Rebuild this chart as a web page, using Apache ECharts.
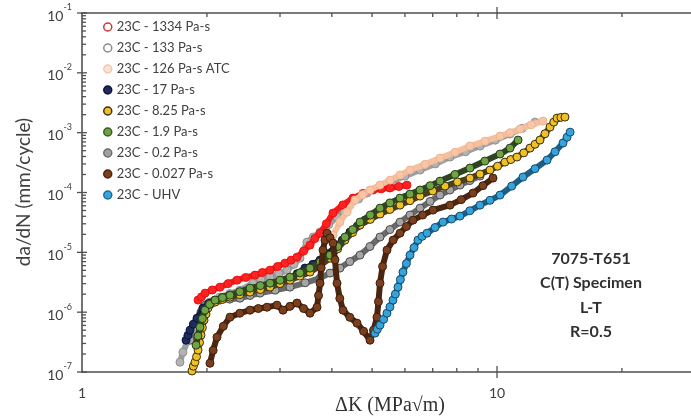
<!DOCTYPE html>
<html><head><meta charset="utf-8">
<script src="https://cdn.jsdelivr.net/npm/echarts@6/dist/echarts.min.js"></script>
<style>html,body{margin:0;padding:0;background:#fff}#c{width:691px;height:419px}</style>
</head><body><div id="c"></div>
<script>
// ---- data (ΔK [MPa√m], da/dN [mm/cycle]) ----
const seriesNames = ['23C - 1334 Pa-s','23C - 133 Pa-s','23C - 126 Pa-s ATC','23C - 17 Pa-s','23C - 8.25 Pa-s','23C - 1.9 Pa-s','23C - 0.2 Pa-s','23C - 0.027 Pa-s','23C - UHV'];
const d1334 = [[1.904,1.59e-6],[1.94,1.8e-6],[1.979,2.08e-6],[2.06,2.35e-6],[2.15,2.62e-6],[2.25,3.0e-6],[2.363,3.43e-6],[2.48,3.8e-6],[2.611,4.16e-6],[2.72,4.6e-6],[2.838,5.04e-6],[2.96,5.8e-6],[3.084,6.6e-6],[3.19,7.4e-6],[3.297,8.31e-6],[3.42,1.05e-5],[3.543,1.32e-5],[3.64,1.7e-5],[3.746,2.09e-5],[3.88,3.0e-5],[4.026,4.53e-5],[4.25,6.2e-5],[4.497,8.06e-5],[4.75,9.6e-5],[5.025,1.1e-4],[5.26,1.15e-4],[5.523,1.19e-4],[5.8,1.26e-4],[6.068,1.33e-4]];
const d133 = [[1.722,1.46e-7],[1.751,2.14e-7],[1.801,3.4e-7],[1.84,4.6e-7],[1.872,6.07e-7],[1.946,1.08e-6],[2.034,1.47e-6],[2.15,1.78e-6],[2.27,2.05e-6],[2.403,2.33e-6],[2.582,3.05e-6],[2.7,3.45e-6],[2.838,3.85e-6],[2.98,4.4e-6],[3.119,5.04e-6],[3.24,6.3e-6],[3.352,8.0e-6],[3.484,1.48e-5],[3.61,1.8e-5],[3.746,2.18e-5],[3.93,2.9e-5],[4.116,3.88e-5],[4.27,4.9e-5],[4.423,6.15e-5],[4.64,7.8e-5],[4.861,9.77e-5],[5.18,1.2e-4],[5.523,1.49e-4],[6.0,1.88e-4],[6.524,2.37e-4],[7.1,3.0e-4],[7.704,3.91e-4],[8.4,4.8e-4],[9.1,5.97e-4],[9.9,7.5e-4],[10.75,9.48e-4],[11.5,1.18e-3],[12.35,1.5e-3]];
const d126 = [[4.026,1.94e-5],[4.184,3.2e-5],[4.35,4.7e-5],[4.547,7.46e-5],[4.74,9.2e-5],[4.943,1.1e-4],[5.22,1.33e-4],[5.523,1.61e-4],[5.84,1.96e-4],[6.17,2.37e-4],[6.7,2.95e-4],[7.29,3.76e-4],[7.92,4.7e-4],[8.607,5.97e-4],[9.35,7.2e-4],[10.17,8.77e-4],[10.75,1.0e-3],[11.36,1.15e-3],[12.1,1.35e-3],[12.91,1.56e-3]];
const d17 = [[1.781,3.4e-7],[1.80,4.1e-7],[1.821,5.0e-7],[1.855,6.3e-7],[1.893,7.94e-7],[1.957,1.17e-6],[2.02,1.4e-6],[2.092,1.59e-6],[2.18,1.76e-6],[2.273,1.92e-6],[2.4,2.12e-6],[2.54,2.33e-6],[2.69,2.58e-6],[2.838,2.83e-6],[3.0,3.2e-6],[3.171,3.7e-6],[3.3,4.4e-6],[3.446,5.45e-6],[3.6,6.3e-6],[3.746,7.41e-6],[3.9,9.4e-6],[4.071,1.22e-5],[4.24,1.6e-5],[4.423,2.18e-5],[4.61,2.75e-5],[4.808,3.45e-5],[5.0,4.2e-5],[5.225,5.08e-5]];
const d825 = [[1.841,1.04e-7],[1.855,1.25e-7],[1.872,1.46e-7],[1.888,1.8e-7],[1.904,2.32e-7],[1.92,3.1e-7],[1.935,4.12e-7],[1.95,5.5e-7],[1.968,7.35e-7],[1.99,9.3e-7],[2.012,1.17e-6],[2.092,1.47e-6],[2.18,1.63e-6],[2.273,1.78e-6],[2.4,1.96e-6],[2.54,2.16e-6],[2.69,2.38e-6],[2.838,2.62e-6],[3.0,3.0e-6],[3.171,3.43e-6],[3.35,4.0e-6],[3.543,4.67e-6],[3.75,6.0e-6],[3.96,8.0e-6],[4.13,1.14e-5],[4.302,1.6e-5],[4.49,2.15e-5],[4.676,2.85e-5],[4.95,3.55e-5],[5.225,4.36e-5],[5.52,5.2e-5],[5.838,6.15e-5],[6.17,7.3e-5],[6.524,8.71e-5],[7.0,1.06e-4],[7.494,1.28e-4],[8.03,1.5e-4],[8.607,1.74e-4],[9.1,2.03e-4],[9.618,2.37e-4],[10.03,2.75e-4],[10.45,3.22e-4],[10.8,3.55e-4],[11.17,3.91e-4],[11.6,4.6e-4],[12.01,5.52e-4],[12.35,6.4e-4],[12.69,7.52e-4],[13.05,9.6e-4],[13.42,1.24e-3],[13.7,1.5e-3],[13.95,1.75e-3],[14.25,1.8e-3],[14.58,1.82e-3]];
const d19 = [[1.883,2.81e-7],[1.903,4.0e-7],[1.924,5.61e-7],[1.95,7.8e-7],[1.979,1.08e-6],[2.03,1.35e-6],[2.092,1.59e-6],[2.18,1.75e-6],[2.273,1.92e-6],[2.4,2.2e-6],[2.54,2.52e-6],[2.69,2.78e-6],[2.838,3.05e-6],[3.0,3.42e-6],[3.171,3.85e-6],[3.35,4.55e-6],[3.543,5.45e-6],[3.75,6.9e-6],[3.96,8.98e-6],[4.13,1.25e-5],[4.302,1.8e-5],[4.49,2.4e-5],[4.676,3.2e-5],[4.95,4.2e-5],[5.225,5.48e-5],[5.52,6.7e-5],[5.838,8.06e-5],[6.17,9.4e-5],[6.524,1.1e-4],[6.9,1.3e-4],[7.29,1.55e-4],[7.92,2.0e-4],[8.607,2.56e-4],[9.35,3.35e-4],[10.17,4.39e-4],[10.75,5.52e-4],[11.24,7.52e-4]];
const d02 = [[1.821,3.4e-7],[1.857,5.0e-7],[1.893,7.35e-7],[1.935,1.0e-6],[1.979,1.31e-6],[2.06,1.47e-6],[2.15,1.59e-6],[2.27,1.65e-6],[2.403,1.71e-6],[2.54,1.9e-6],[2.685,2.08e-6],[2.92,2.33e-6],[3.171,2.62e-6],[3.45,3.1e-6],[3.746,3.7e-6],[3.96,4.5e-6],[4.184,5.45e-6],[4.42,7.0e-6],[4.676,8.98e-6],[4.94,1.25e-5],[5.225,1.8e-5],[5.52,2.4e-5],[5.838,3.2e-5],[6.17,4.2e-5],[6.524,5.48e-5],[6.9,7.1e-5],[7.29,9.06e-5],[7.7,1.1e-4],[8.143,1.33e-4],[8.6,1.58e-4],[9.1,1.88e-4]];
const d0027 = [[2.034,1.4e-7],[2.07,2.3e-7],[2.115,3.82e-7],[2.19,5.8e-7],[2.273,8.25e-7],[2.4,9.6e-7],[2.54,1.08e-6],[2.66,1.15e-6],[2.791,1.21e-6],[2.95,1.31e-6],[3.05,1.08e-6],[3.17,1.25e-6],[3.297,1.42e-6],[3.42,1.15e-6],[3.543,9.62e-7],[3.684,1.21e-6],[3.715,1.9e-6],[3.746,3.05e-6],[3.77,5.5e-6],[3.809,1.09e-5],[3.85,1.6e-5],[3.894,2.09e-5],[3.96,1.75e-5],[4.026,1.43e-5],[4.07,7.5e-6],[4.116,3.05e-6],[4.18,1.7e-6],[4.255,1.08e-6],[4.42,8.2e-7],[4.599,6.55e-7],[4.77,4.8e-7],[4.943,3.4e-7],[5.04,5.0e-7],[5.138,8.25e-7],[5.18,1.5e-6],[5.225,3.05e-6],[5.3,5.8e-6],[5.431,1.09e-5],[5.62,1.6e-5],[5.838,2.09e-5],[6.05,2.7e-5],[6.274,3.45e-5],[6.62,4.2e-5],[7.012,5.08e-5],[7.704,6.15e-5],[8.2,7.6e-5],[8.752,9.77e-5],[9.25,1.3e-4],[9.781,1.74e-4]];
const dUHV = [[5.082,4.46e-7],[5.15,5.2e-7],[5.225,6.07e-7],[5.33,7.6e-7],[5.431,9.62e-7],[5.52,1.22e-6],[5.616,1.59e-6],[5.69,2.0e-6],[5.773,2.62e-6],[5.85,3.5e-6],[5.935,4.67e-6],[6.05,6.5e-6],[6.17,8.98e-6],[6.31,1.2e-5],[6.45,1.6e-5],[6.6,1.85e-5],[6.782,2.09e-5],[7.09,2.6e-5],[7.412,3.2e-5],[7.77,3.6e-5],[8.143,4.03e-5],[8.6,4.95e-5],[9.1,6.15e-5],[9.62,7.4e-5],[10.17,9.06e-5],[10.85,1.28e-4],[11.55,1.81e-4],[12.35,2.5e-4],[13.2,3.48e-4],[13.8,4.8e-4],[14.42,6.7e-4],[14.75,8.4e-4],[15.0,1.02e-3]];

const xTickLabels = [1, 10];
const xMinorTicks = [2,3,4,5,6,7,8,9,20];
const yMajorTicks = [1e-7,1e-6,1e-5,1e-4,1e-3,1e-2,1e-1];
const yMinorMult = [2,3,4,5,6,7,8,9];
const noteLines = ['7075-T651','C(T) Specimen','L-T','R=0.5'];
const xTitle = 'ΔK (MPa√m)';
const yTitle = 'da/dN (mm/cycle)';

// ---- styles ----
const styles = [
  {fill:'#ff2222', border:'#e81010', line:'#f21c1c', lf:'#ffffff', lb:'#cc3333', z:4},
  {fill:'#b3b3b3', border:'#8f8f8f', line:'#9e9e9e', lf:'#ffffff', lb:'#8a8a8a', z:3},
  {fill:'#f9c7a8', border:'#f0b390', line:'#f6bf9e', lf:'#fbe3d5', lb:'#f2c6ac', z:5},
  {fill:'#1d2b5e', border:'#0c1430', line:'#1b2238', lf:'#1d2b5e', lb:'#0c1430', z:7},
  {fill:'#f0c024', border:'#3a3010', line:'#4a4020', lf:'#f0c024', lb:'#3a3010', z:8},
  {fill:'#6ea442', border:'#283c18', line:'#2e4422', lf:'#6ea442', lb:'#3a5a28', z:9},
  {fill:'#a5a5a5', border:'#4c4c4c', line:'#6a6a6a', lf:'#a0a0a0', lb:'#6c6c6c', z:6},
  {fill:'#7b3f1d', border:'#3b1e0c', line:'#4a2610', lf:'#7b3f1d', lb:'#4a2610', z:10},
  {fill:'#34a4dc', border:'#19496a', line:'#1f5f86', lf:'#34a4dc', lb:'#1f6a96', z:11}
];
const allData = [d1334,d133,d126,d17,d825,d19,d02,d0027,dUHV];

const series = allData.map((d,i)=>({
  type:'line', name:seriesNames[i], data:d, xAxisIndex:0, yAxisIndex:0,
  symbol:'circle', symbolSize:8, z:styles[i].z,
  itemStyle:{color:styles[i].fill, borderColor:styles[i].border, borderWidth:1},
  lineStyle:{color:styles[i].line, width:6},
  emphasis:{disabled:true}, silent:true
}));

// tick marks drawn through axis scales
const tickItems = [];
xMinorTicks.forEach(v=>{tickItems.push([v,1e-7,0]);tickItems.push([v,1e-1,1]);});
[10].forEach(v=>{tickItems.push([v,1e-7,2]);tickItems.push([v,1e-1,3]);});
yMajorTicks.forEach(v=>tickItems.push([1,v,5]));
yMajorTicks.slice(0,-1).forEach(b=>yMinorMult.forEach(m=>tickItems.push([1,b*m,4])));
series.push({
  type:'custom', data:tickItems, xAxisIndex:0, yAxisIndex:0, clip:false, silent:true, z:20,
  renderItem:(params, api)=>{
    const p = api.coord([api.value(0), api.value(1)]);
    const k = api.value(2);
    let s;
    if (k===0) s={x1:p[0],y1:p[1]-4,x2:p[0],y2:p[1]};
    else if (k===1) s={x1:p[0],y1:p[1],x2:p[0],y2:p[1]+4};
    else if (k===2||k===3) s={x1:p[0],y1:p[1]-6,x2:p[0],y2:p[1]+6};
    else if (k===4) s={x1:p[0],y1:p[1],x2:p[0]+4,y2:p[1]};
    else s={x1:p[0]-5,y1:p[1],x2:p[0]+5,y2:p[1]};
    return {type:'line', shape:s, style:{stroke:'#505050', lineWidth:1.3}};
  }
});

const chart = echarts.init(document.getElementById('c'), null, {renderer:'canvas'});
chart.setOption({
  animation:false,
  backgroundColor:'#ffffff',
  grid:{left:82, right:0, top:13, bottom:47},
  xAxis:[
    {type:'log', logBase:10, min:1, max:29.34, position:'bottom',
     axisLine:{lineStyle:{color:'#505050', width:1.6}}, axisTick:{show:false}, splitLine:{show:false},
     axisLabel:{margin:14, fontFamily:'Lato', fontSize:14, color:'#404040', showMaxLabel:false,
       formatter:v=>{const r=Math.round(v); return xTickLabels.indexOf(r)>=0 && Math.abs(v-r)<1e-6 ? String(r) : '';}}},
    {type:'log', logBase:10, min:1, max:29.34, position:'top',
     axisLine:{lineStyle:{color:'#505050', width:1.6}}, axisTick:{show:false}, splitLine:{show:false}, axisLabel:{show:false}}
  ],
  yAxis:{type:'log', logBase:10, min:1e-7, max:1e-1,
     axisLine:{lineStyle:{color:'#505050', width:1.6}}, axisTick:{show:false}, splitLine:{show:false},
     axisLabel:{margin:10, color:'#404040',
       formatter:v=>'{b|10}{s|'+Math.round(Math.log10(v))+'}',
       rich:{b:{fontFamily:'Lato', fontSize:14, lineHeight:20, verticalAlign:'bottom', color:'#404040'},
             s:{fontFamily:'Lato', fontSize:9, lineHeight:10, verticalAlign:'top', color:'#404040'}}}},
  legend:{
    orient:'vertical', left:103, top:20, padding:0, itemGap:7, itemWidth:8, itemHeight:8, icon:'circle',
    selectedMode:false,
    textStyle:{fontFamily:'Lato', fontSize:13, lineHeight:14, color:'#404040'},
    data:seriesNames.map((n,i)=>({name:n, itemStyle:{color:styles[i].lf, borderColor:styles[i].lb, borderWidth:1.5}}))
  },
  graphic:[
    {type:'text', x:24, y:192, rotation:Math.PI/2, style:{text:yTitle, fontFamily:'Lato', fontSize:19, fill:'#404040', align:'center', verticalAlign:'middle'}},
    {type:'text', x:390, y:406, style:{text:xTitle, fontFamily:'Liberation Serif', fontSize:20, fill:'#303030', align:'center', verticalAlign:'middle'}}
  ].concat(noteLines.map((t,i)=>({type:'text', x:591, y:259+i*24.3,
    style:{text:t, fontFamily:'Lato', fontWeight:'bold', fontSize:16, fill:'#303030', align:'center', verticalAlign:'middle'}}))),
  series:series
});
</script></body></html>
